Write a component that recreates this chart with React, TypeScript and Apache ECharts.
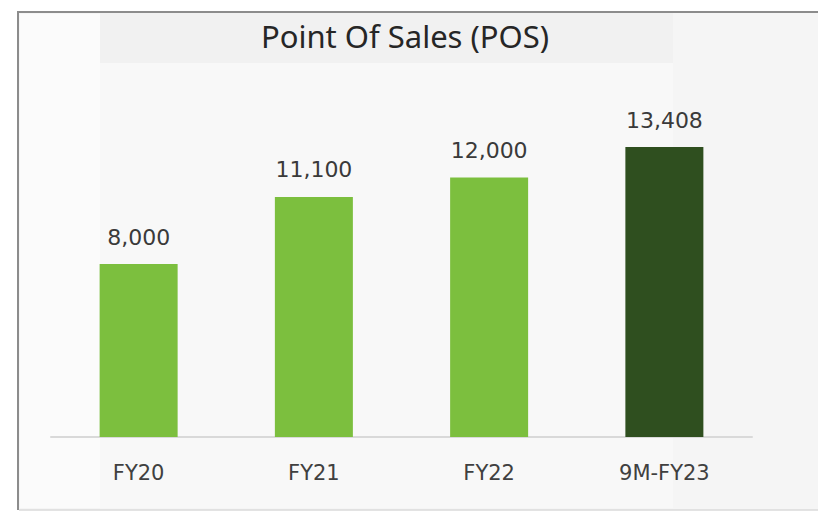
import React, { useEffect, useRef } from "react";
import * as echarts from "echarts";

const categories = ["FY20", "FY21", "FY22", "9M-FY23"];
const values = [8000, 11100, 12000, 13408];
const barColors = ["#7cbf3e", "#7cbf3e", "#7cbf3e", "#2f4f1f"];
const titleText = "Point Of Sales (POS)";

export default function App() {
  const ref = useRef<HTMLDivElement>(null);
  useEffect(() => {
    document.body.style.margin = "0";
    const chart = echarts.init(ref.current!, null, { renderer: "svg" });
    chart.setOption({
      animation: false,
      backgroundColor: "#ffffff",
      graphic: [
        {
          type: "rect",
          z: -10,
          shape: { x: 18, y: 12, width: 820, height: 498 },
          style: { fill: "#f5f5f5" },
        },
        {
          type: "rect",
          z: -9,
          shape: { x: 20, y: 14, width: 80, height: 494 },
          style: { fill: "#fbfbfb" },
        },
        {
          type: "rect",
          z: -9,
          shape: { x: 100, y: 13, width: 573, height: 50 },
          style: { fill: "#f1f1f1" },
        },
        {
          type: "rect",
          z: -9,
          shape: { x: 100, y: 63, width: 573, height: 445 },
          style: { fill: "#f8f8f8" },
        },
        {
          type: "polyline",
          z: -8,
          shape: { points: [[18, 510], [18, 12], [818, 12]] },
          style: { stroke: "#8c8c8c", lineWidth: 2, fill: null },
        },
        {
          type: "line",
          z: -8,
          shape: { x1: 19, y1: 510, x2: 818, y2: 510 },
          style: { stroke: "#dadada", lineWidth: 1.5 },
        },
      ],
      title: {
        text: titleText,
        left: 400,
        top: 15,
        textAlign: "center",
        textStyle: {
          fontFamily: "Noto Sans",
          fontSize: 31,
          fontWeight: "normal",
          color: "#262626",
        },
      },
      grid: { left: 51, right: 66, top: 91, bottom: 79 },
      xAxis: {
        type: "category",
        data: categories,
        axisLine: { lineStyle: { color: "#d9d9d9", width: 2 } },
        axisTick: { show: false },
        axisLabel: {
          margin: 25,
          fontFamily: "DejaVu Sans",
          fontSize: 21,
          color: "#404040",
        },
      },
      yAxis: {
        type: "value",
        min: 0,
        max: 16000,
        show: false,
        splitLine: { show: false },
      },
      series: [
        {
          type: "bar",
          barWidth: 78,
          data: values.map((v, i) => ({ value: v, itemStyle: { color: barColors[i] } })),
          label: {
            show: true,
            position: "top",
            distance: 16,
            fontFamily: "DejaVu Sans",
            fontSize: 22,
            color: "#3a3a3a",
            formatter: (p: any) => Number(p.value).toLocaleString("en-US"),
          },
        },
      ],
    });
    return () => chart.dispose();
  }, []);
  return <div ref={ref} style={{ width: 818, height: 516 }} />;
}
